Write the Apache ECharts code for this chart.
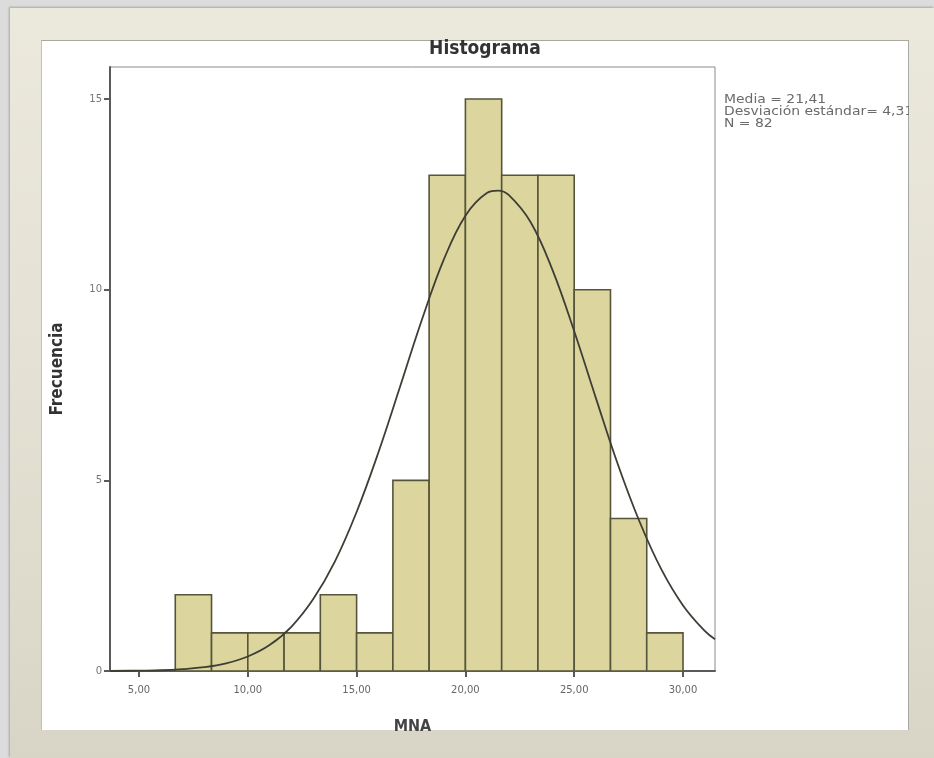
<!DOCTYPE html>
<html>
<head>
<meta charset="utf-8">
<script src="https://cdn.jsdelivr.net/npm/echarts@6/dist/echarts.min.js"></script>
<style>
  html, body { margin: 0; padding: 0; width: 934px; height: 758px; overflow: hidden; background: #dcdcdc; }
  #beige { position: absolute; left: 10px; top: 8px; width: 924px; height: 750px;
           background: linear-gradient(180deg, #ebe8dc 0%, #e4e1d4 50%, #d9d5c6 100%);
           box-shadow: -1px -1px 2px rgba(0,0,0,0.25); }
  #white { position: absolute; left: 41px; top: 40px; width: 866px; height: 689px; background: #ffffff;
           border-top: 1px solid #a9a79e; border-left: 1px solid #c3c1b8; border-right: 2px solid #a8a8a8; }
  #chart { position: absolute; left: 0; top: 0; width: 934px; height: 758px; }
</style>
</head>
<body>
<div id="beige"></div>
<div id="white"></div>
<div id="chart"></div>
<script>
// ---- data ----
const chartTitle = 'Histograma';
const xAxisName = 'MNA';
const yAxisName = 'Frecuencia';
const binEdges = [6.667, 8.333, 10, 11.667, 13.333, 15, 16.667, 18.333, 20, 21.667, 23.333, 25, 26.667, 28.333, 30];
const frequencies = [2, 1, 1, 1, 2, 1, 5, 13, 15, 13, 13, 10, 4, 1];
const curveX = [3.67, 5, 6, 7, 8, 9, 10, 11, 12, 13, 14, 15, 16, 17, 18, 19, 20, 21, 21.5, 22, 23, 24, 25, 26, 27, 28, 29, 30, 31, 31.47];
const curveY = [0.0, 0.01, 0.02, 0.05, 0.10, 0.20, 0.38, 0.68, 1.16, 1.88, 2.87, 4.17, 5.73, 7.46, 9.21, 10.78, 11.94, 12.54, 12.6, 12.48, 11.77, 10.52, 8.91, 7.15, 5.43, 3.92, 2.67, 1.72, 1.05, 0.83];
const xTickValues = [5, 10, 15, 20, 25, 30];
const xTickLabels = ['5,00', '10,00', '15,00', '20,00', '25,00', '30,00'];
const yTickValues = [0, 5, 10, 15];
const yTickLabels = ['0', '5', '10', '15'];
const statsLines = ['Media = 21,41', 'Desviación estándar= 4,31', 'N = 82'];
const xRange = [3.667, 31.47];
const yRange = [0, 15.84];

// ---- build ----
const barData = frequencies.map((f, i) => [binEdges[i], binEdges[i + 1], f]);
const curveData = curveX.map((x, i) => [x, curveY[i]]);
const condensed = "'DejaVu Sans Condensed', 'DejaVu Sans', sans-serif";

const chart = echarts.init(document.getElementById('chart'), null, { renderer: 'canvas' });
chart.setOption({
  backgroundColor: 'transparent',
  animation: false,
  grid: { left: 110, top: 67, width: 605, height: 604, show: true, borderColor: '#8a8a8a', borderWidth: 1, backgroundColor: '#ffffff' },
  xAxis: {
    type: 'value', min: xRange[0], max: xRange[1],
    name: xAxisName, nameLocation: 'middle', nameGap: 48,
    nameTextStyle: { fontFamily: condensed, fontWeight: 'bold', fontSize: 16, color: '#444' },
    axisLine: { show: true, lineStyle: { color: '#5a5a5a', width: 2 } },
    axisTick: { show: true, length: 6, customValues: xTickValues, lineStyle: { color: '#5a5a5a', width: 2 } },
    axisLabel: { customValues: xTickValues, margin: 14, color: '#666', fontFamily: 'DejaVu Sans', fontSize: 10,
      formatter: v => { const i = xTickValues.findIndex(t => Math.abs(t - v) < 1e-6); return i >= 0 ? xTickLabels[i] : ''; } },
    splitLine: { show: false }
  },
  yAxis: {
    type: 'value', min: yRange[0], max: yRange[1],
    name: yAxisName, nameLocation: 'middle', nameGap: 44, nameRotate: 90,
    nameTextStyle: { fontFamily: condensed, fontWeight: 'bold', fontSize: 17, color: '#333' },
    axisLine: { show: true, lineStyle: { color: '#5a5a5a', width: 2 } },
    axisTick: { show: true, length: 6, customValues: yTickValues, lineStyle: { color: '#5a5a5a', width: 2 } },
    axisLabel: { customValues: yTickValues, margin: 8, color: '#777', fontFamily: 'DejaVu Sans', fontSize: 10,
      formatter: v => { const i = yTickValues.findIndex(t => Math.abs(t - v) < 1e-6); return i >= 0 ? yTickLabels[i] : ''; } },
    splitLine: { show: false }
  },
  series: [
    {
      type: 'custom',
      data: barData,
      encode: { x: [0, 1], y: 2 },
      clip: true,
      renderItem: function (params, api) {
        const p0 = api.coord([api.value(0), api.value(2)]);
        const p1 = api.coord([api.value(1), 0]);
        return {
          type: 'rect',
          shape: { x: p0[0], y: p0[1], width: p1[0] - p0[0], height: p1[1] - p0[1] },
          style: { fill: '#dcd69e', stroke: '#56543a', lineWidth: 1.6 }
        };
      },
      z: 2
    },
    {
      type: 'line',
      data: curveData,
      smooth: 0.4,
      showSymbol: false,
      clip: true,
      lineStyle: { color: '#3e3e36', width: 1.8 },
      z: 3
    }
  ],
  graphic: [
    { type: 'text', x: 485, y: 49, z: 10,
      style: { text: chartTitle, fontFamily: condensed, fontWeight: 'bold', fontSize: 19, fill: '#333', align: 'center', verticalAlign: 'middle' } },
    { type: 'text', x: 724, y: 94, z: 10, scaleX: 1.16, originX: 0, originY: 0,
      style: { text: statsLines.join('\n'), fontFamily: 'DejaVu Sans', fontSize: 12, lineHeight: 12, fill: '#6a6a6a' } },
    { type: 'rect', z: 100, shape: { x: 909, y: 38, width: 25, height: 693 },
      style: { fill: new echarts.graphic.LinearGradient(0, 0, 0, 1, [
        { offset: 0, color: '#eae7db' }, { offset: 0.5, color: '#e4e1d4' }, { offset: 1, color: '#dad6c7' }]) } }
  ]
});
</script>
</body>
</html>
